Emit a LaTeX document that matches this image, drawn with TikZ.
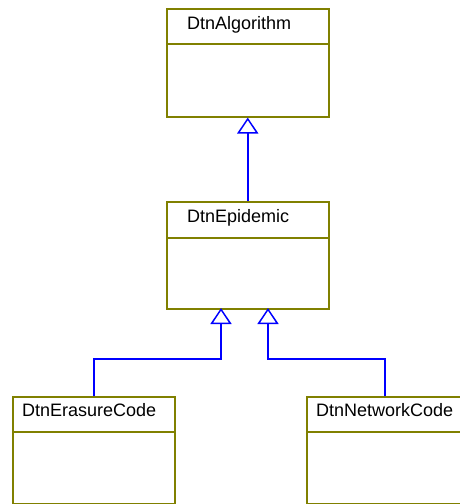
\documentclass[tikz,border=0pt]{standalone}
\usepackage{fontspec}
\setmainfont{Liberation Sans}
\usetikzlibrary{arrows.meta}

\definecolor{classline}{RGB}{128,128,0}
\definecolor{genline}{RGB}{0,0,255}

\tikzset{
  classbox/.style={draw=classline, line width=1.5pt, inner sep=0pt,
    minimum width=162pt, minimum height=107pt, anchor=north west},
  classname/.style={anchor=base west, inner sep=0pt,
    font=\fontsize{18}{20}\selectfont},
  inherit/.style={genline, line width=1.5pt,
    -{Triangle[open, width=21pt, length=16pt]}},
}

\begin{document}
\begin{tikzpicture}[x=1pt, y=-1pt]
      \useasboundingbox (0,0) rectangle (460,504) ;
      \clip (0,0) rectangle (460,504) ;
      % classes
      \node[classbox, minimum height=108pt] (alg) at (166,8) {} ;
      \node[classbox] (epi) at (166,201) {} ;
      \node[classbox] (era) at (12,396) {} ;
      \node[classbox, minimum width=156pt] (net) at (306,396) {} ;
      \foreach \n/\y in {alg/44, epi/238, era/432, net/432}
        \draw[classline, line width=1.5pt] (\n.west |- 0,\y) -- (\n.east |- 0,\y) ;
      \node[classname] (algname) at (187,29) {DtnAlgorithm} ;
      \node[classname] (epiname) at (187,222) {DtnEpidemic} ;
      \node[classname] (eraname) at (22,416) {DtnErasureCode} ;
      \node[classname] (netname) at (316,416) {DtnNetworkCode} ;
      % generalisation
      \coordinate (epil) at (221,308) ;
      \coordinate (epir) at (268,308) ;
      \draw[inherit] (epi.north) -- (alg.south) ;
      \draw[inherit] (era.north) |- (epil |- 0,359) -- (epil) ;
      \draw[inherit] (net.north) |- (epir |- 0,359) -- (epir) ;
    \end{tikzpicture}
\end{document}
